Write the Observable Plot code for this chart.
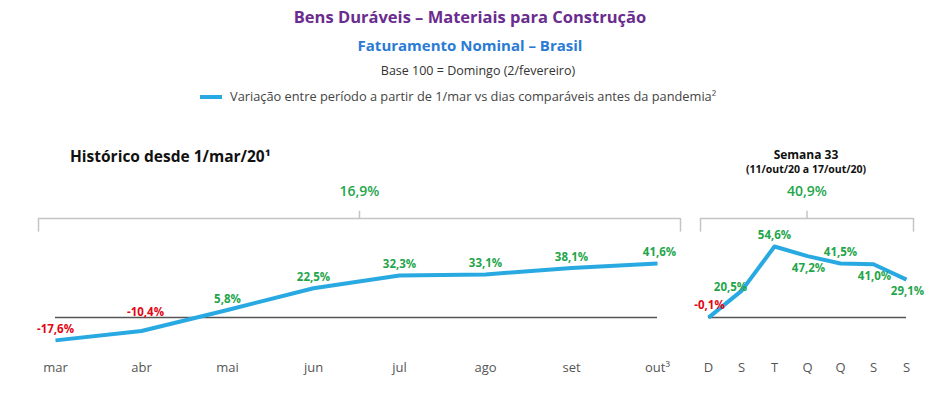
<!DOCTYPE html>
<html><head><meta charset="utf-8">
<script src="https://cdn.jsdelivr.net/npm/d3@7"></script>
<script src="https://cdn.jsdelivr.net/npm/@observablehq/plot@0.6"></script>
<style>
body{margin:0;background:#fff;font-family:"Open Sans",sans-serif}
#wrap{position:relative;width:945px;height:396px;overflow:hidden;background:#fff}
.t{position:absolute;left:0;width:940px;text-align:center;white-space:nowrap;line-height:20px}
#wrap svg{position:absolute;left:0;top:0;overflow:visible}
</style></head>
<body>
<div id="wrap">
  <div class="t" style="top:7px;font-size:16.5px;font-weight:700;color:#6a2c8e">Bens Duráveis – Materiais para Construção</div>
  <div class="t" style="top:35px;font-size:15px;font-weight:700;color:#2a7bd5">Faturamento Nominal – Brasil</div>
  <div class="t" style="top:61px;left:8px;font-size:12.5px;color:#333">Base 100 = Domingo (2/fevereiro)</div>
  <div style="position:absolute;left:200px;top:86px;line-height:20px;font-size:12.8px;color:#444;white-space:nowrap"><span style="display:inline-block;width:22px;height:4px;background:#29a9e1;vertical-align:middle;margin-right:8px;position:relative;top:-1px"></span>Variação entre período a partir de 1/mar vs dias comparáveis antes da pandemia²</div>
  <div style="position:absolute;left:70px;top:145px;line-height:22px;font-size:15.5px;font-weight:700;color:#111;white-space:nowrap">Histórico desde 1/mar/20¹</div>
  <div style="position:absolute;left:686px;top:148px;width:240px;text-align:center;line-height:14px;font-size:12px;font-weight:700;color:#111">Semana 33</div>
  <div style="position:absolute;left:686px;top:162px;width:240px;text-align:center;line-height:14px;font-size:10.5px;font-weight:700;color:#111">(11/out/20 a 17/out/20)</div>
</div>
<script>
// ---- data ----
const months = ["mar","abr","mai","jun","jul","ago","set","out³"];
const monthlyValues = [-17.6,-10.4,5.8,22.5,32.3,33.1,38.1,41.6];
const periodTotal = 16.9;

const days = ["D","S","T","Q","Q","S","S"];
const dailyValues = [-0.1,20.5,54.6,47.2,41.5,41.0,29.1];
const weekTotal = 40.9;

// ---- styles ----
const RED = "#e30613", GREEN = "#1fa64b", BLUE = "#29a9e1", ZERO = "#555", BRACKET = "#c4c4c4";
const fmt = v => v.toFixed(1).replace(".", ",") + "%";
const font = {fontFamily: "Open Sans, sans-serif", background: "transparent", overflow: "visible"};

const wrap = document.getElementById("wrap");
const Y = {domain: [-40, 100], range: [317 + 52, 317 - 130]}; // zero at 317

function panel(labels, values, total, xRange, bracketPad, placements) {
  const data = values.map((v, i) => ({i, v, label: labels[i]}));
  const n = values.length - 1;
  const step = (xRange[1] - xRange[0]) / n;
  const bx1 = -bracketPad[0] / step, bx2 = n + bracketPad[1] / step;
  const bmid = (bx1 + bx2) / 2;
  const by = 76.2;
  const labelMarks = placements.map(p =>
    Plot.text(data.filter(d => p.idx.includes(d.i)), {x: "i", y: "v", dx: p.dx, dy: p.dy,
      text: d => fmt(d.v), fill: d => d.v < 0 ? RED : GREEN, fontWeight: 700, fontSize: 11.5}));
  return Plot.plot({
    width: 945, height: 396,
    x: {domain: [0, n], range: xRange, axis: null},
    y: {...Y, axis: null},
    style: font,
    marks: [
      Plot.ruleY([by], {x1: bx1, x2: bx2, stroke: BRACKET, strokeWidth: 1.5}),
      Plot.ruleX([bx1, bx2], {y1: by, y2: by - 10.5, stroke: BRACKET, strokeWidth: 1.5}),
      Plot.ruleX([bmid], {y1: by, y2: by + 5.5, stroke: BRACKET, strokeWidth: 1.5}),
      Plot.text([total], {x: bmid, y: by + 21, text: d => fmt(d), fill: GREEN, fontSize: 14, fontWeight: 600}),
      Plot.ruleY([0], {x1: 0, x2: n, stroke: ZERO, strokeWidth: 1.5}),
      Plot.line(data, {x: "i", y: "v", stroke: BLUE, strokeWidth: 4, strokeLinecap: "butt", strokeLinejoin: "round"}),
      ...labelMarks,
      Plot.text(data, {x: "i", y: -38.5, text: "label", fill: "#555", fontSize: 13})
    ]
  });
}

wrap.appendChild(panel(months, monthlyValues, periodTotal, [55, 657], [17, 23], [
  {idx: [0, 2, 3, 4, 5, 6], dx: 0, dy: -11},
  {idx: [1], dx: 4, dy: -19},
  {idx: [7], dx: 2, dy: -11}
]));

wrap.appendChild(panel(days, dailyValues, weekTotal, [708, 906], [8, 7], [
  {idx: [0], dx: 1, dy: -12},
  {idx: [1], dx: -11, dy: -4},
  {idx: [2, 4], dx: 0, dy: -11},
  {idx: [3, 5, 6], dx: 1, dy: 12}
]));
</script>
</body></html>
